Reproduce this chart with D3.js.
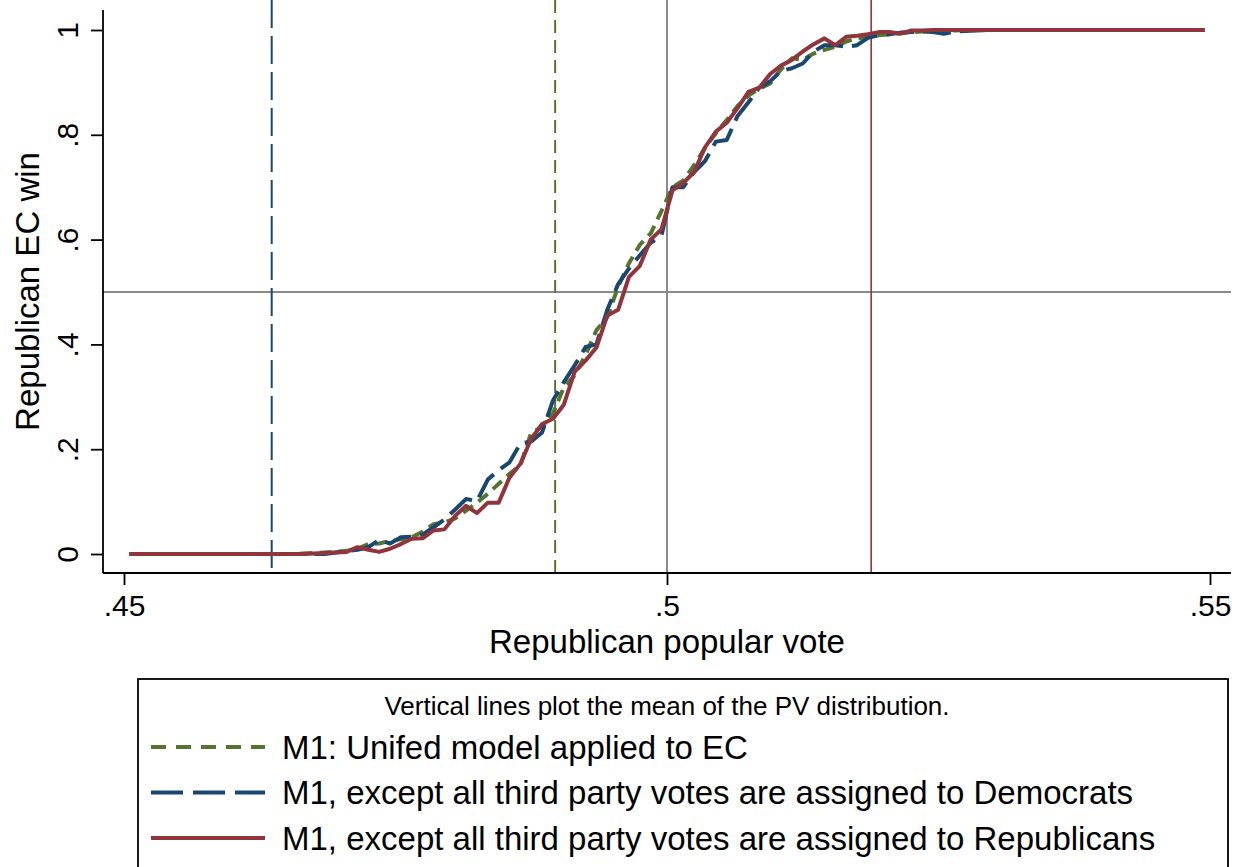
<!DOCTYPE html>
<html>
<head>
<meta charset="utf-8">
<script src="https://cdn.jsdelivr.net/npm/d3@7"></script>
<style>
  html, body { margin: 0; padding: 0; background: #fff; }
  svg { display: block; font-family: "Liberation Sans", Arial, Helvetica, sans-serif; }
</style>
</head>
<body>
<svg id="chart" width="1242" height="867"></svg>
<script>
// Bin midpoints of the Republican popular vote share
const pvBins = [
  0.4505,0.4515,0.4525,0.4535,0.4545,0.4555,0.4565,0.4575,0.4585,0.4595,
  0.4605,0.4615,0.4625,0.4635,0.4645,0.4655,0.4665,0.4675,0.4685,0.4695,
  0.4705,0.4715,0.4725,0.4735,0.4745,0.4755,0.4765,0.4775,0.4785,0.4795,
  0.4805,0.4815,0.4825,0.4835,0.4845,0.4855,0.4865,0.4875,0.4885,0.4895,
  0.4905,0.4915,0.4925,0.4935,0.4945,0.4955,0.4965,0.4975,0.4985,0.4995,
  0.5005,0.5015,0.5025,0.5035,0.5045,0.5055,0.5065,0.5075,0.5085,0.5095,
  0.5105,0.5115,0.5125,0.5135,0.5145,0.5155,0.5165,0.5175,0.5185,0.5195,
  0.5205,0.5215,0.5225,0.5235,0.5245,0.5255,0.5265,0.5275,0.5285,0.5295,
  0.5305,0.5315,0.5325,0.5335,0.5345,0.5355,0.5365,0.5375,0.5385,0.5395,
  0.5405,0.5415,0.5425,0.5435,0.5445,0.5455,0.5465,0.5475,0.5485,0.5495
];

// Share of simulations with a Republican Electoral College win, per bin
const winUnified = [
  0,0,0,0,0,0,0,0,0,0,
  0,0,0,0,0,0,0.001,0.002,0.003,0.004,
  0.006,0.010,0.019,0.020,0.025,0.028,0.032,0.043,0.057,0.060,
  0.068,0.083,0.098,0.115,0.134,0.153,0.169,0.232,0.242,0.268,
  0.318,0.341,0.380,0.427,0.452,0.510,0.555,0.590,0.612,0.655,
  0.700,0.713,0.742,0.775,0.803,0.828,0.855,0.875,0.888,0.898,
  0.925,0.946,0.943,0.955,0.962,0.968,0.978,0.984,0.987,0.990,
  0.992,0.994,0.996,0.997,0.998,0.998,0.999,1,1,1,
  1,1,1,1,1,1,1,1,1,1,
  1,1,1,1,1,1,1,1,1,1
];
const winThirdToDem = [
  0,0,0,0,0,0,0,0,0,0,
  0,0,0,0,0,0,0,0,0,0.003,
  0.006,0.008,0.013,0.027,0.020,0.032,0.033,0.037,0.051,0.066,
  0.085,0.105,0.101,0.142,0.160,0.175,0.211,0.215,0.232,0.293,
  0.328,0.360,0.395,0.400,0.466,0.515,0.545,0.570,0.594,0.608,
  0.700,0.700,0.729,0.750,0.787,0.790,0.836,0.862,0.890,0.902,
  0.922,0.927,0.936,0.959,0.971,0.971,0.968,0.971,0.985,0.990,
  0.992,0.995,0.996,0.997,0.996,0.993,0.997,0.998,0.999,1,
  1,1,1,1,1,1,1,1,1,1,
  1,1,1,1,1,1,1,1,1,1
];
const winThirdToRep = [
  0,0,0,0,0,0,0,0,0,0,
  0,0,0,0,0,0,0,0.001,0.002,0.003,
  0.004,0.013,0.008,0.004,0.010,0.019,0.029,0.030,0.045,0.047,
  0.073,0.092,0.078,0.098,0.098,0.146,0.172,0.220,0.248,0.258,
  0.285,0.348,0.369,0.394,0.455,0.466,0.529,0.550,0.600,0.620,
  0.694,0.708,0.729,0.776,0.806,0.823,0.851,0.882,0.890,0.916,
  0.932,0.943,0.959,0.973,0.984,0.971,0.987,0.989,0.992,0.996,
  0.996,0.993,0.999,0.999,1,1,1,1,1,1,
  1,1,1,1,1,1,1,1,1,1,
  1,1,1,1,1,1,1,1,1,1
];

// Mean of each popular-vote distribution
const pvMeans = [0.4636, 0.4897, 0.5188];

const xTicks = [0.45, 0.5, 0.55];
const yTicks = [0, 0.2, 0.4, 0.6, 0.8, 1];

const seriesNames = [
  "M1: Unifed model applied to EC",
  "M1, except all third party votes are assigned to Democrats",
  "M1, except all third party votes are assigned to Republicans"
];
const noteText = "Vertical lines plot the mean of the PV distribution.";
const xTitle = "Republican popular vote";
const yTitle = "Republican EC win";

const colors = { green: "#55752f", navy: "#1a476f", maroon: "#90353b", grid: "#8a8a8a" };

const svg = d3.select("#chart");
svg.append("rect").attr("width", 1242).attr("height", 867).attr("fill", "#fff");

const x = d3.scaleLinear().domain([0.45, 0.55]).range([124, 1210]);
const y = d3.scaleLinear().domain([0, 1]).range([554, 30]);

const plotLeft = 103, plotRight = 1231, plotBottom = 573, plotTop = 10;

const fmt = d => (d === 0 || d === 1) ? String(d) : String(d).replace(/^0\./, ".");

// Reference lines: 0.5 thresholds and distribution means
svg.append("line")
  .attr("x1", plotLeft).attr("x2", plotRight)
  .attr("y1", y(0.5)).attr("y2", y(0.5))
  .attr("stroke", colors.grid).attr("stroke-width", 2);
svg.append("line")
  .attr("x1", x(0.5)).attr("x2", x(0.5))
  .attr("y1", 0).attr("y2", plotBottom)
  .attr("stroke", colors.grid).attr("stroke-width", 2);

const meanStyles = [
  { color: colors.navy, dash: "28,8", width: 2 },
  { color: colors.green, dash: "13,7", width: 2 },
  { color: colors.maroon, dash: null, width: 1.6 }
];
pvMeans.forEach((m, i) => {
  svg.append("line")
    .attr("x1", x(m)).attr("x2", x(m))
    .attr("y1", 0).attr("y2", plotBottom)
    .attr("stroke", meanStyles[i].color)
    .attr("stroke-width", meanStyles[i].width)
    .attr("stroke-dasharray", meanStyles[i].dash);
});

// Curves
const seriesData = [
  { values: winUnified, color: colors.green, dash: "12,7" },
  { values: winThirdToDem, color: colors.navy, dash: "28,9" },
  { values: winThirdToRep, color: colors.maroon, dash: null }
];
const line = d3.line().x(d => x(d[0])).y(d => y(d[1]));
seriesData.forEach(s => {
  svg.append("path")
    .datum(pvBins.map((p, i) => [p, s.values[i]]))
    .attr("d", line)
    .attr("fill", "none")
    .attr("stroke", s.color)
    .attr("stroke-width", 4)
    .attr("stroke-linejoin", "round")
    .attr("stroke-dasharray", s.dash);
});

// Axes
const xAxis = svg.append("g")
  .attr("transform", `translate(0,${plotBottom})`)
  .call(d3.axisBottom(x).tickValues(xTicks).tickFormat(fmt).tickSize(12).tickPadding(10));
xAxis.select(".domain").attr("d", `M${plotLeft},0H${plotRight}`).attr("stroke", "#000").attr("stroke-width", 1.8);
xAxis.selectAll(".tick line").attr("stroke", "#000").attr("stroke-width", 1.8);
xAxis.selectAll(".tick text").attr("font-size", 30).attr("fill", "#000").attr("font-family", "Liberation Sans, Arial, sans-serif");

const yAxis = svg.append("g")
  .attr("transform", `translate(${plotLeft},0)`)
  .call(d3.axisLeft(y).tickValues(yTicks).tickFormat(fmt).tickSize(12).tickPadding(0));
yAxis.select(".domain").attr("d", `M0,${plotTop}V${plotBottom}`).attr("stroke", "#000").attr("stroke-width", 1.8);
yAxis.selectAll(".tick line").attr("stroke", "#000").attr("stroke-width", 1.8);
yAxis.selectAll(".tick text")
  .attr("font-size", 30).attr("fill", "#000").attr("font-family", "Liberation Sans, Arial, sans-serif")
  .attr("x", null).attr("dy", null)
  .attr("text-anchor", "middle")
  .attr("transform", "translate(-25,0) rotate(-90)");

// Axis titles
svg.append("text")
  .attr("x", x(0.5)).attr("y", 653)
  .attr("text-anchor", "middle").attr("font-size", 33)
  .text(xTitle);
svg.append("text")
  .attr("transform", `translate(39,${(plotTop + plotBottom) / 2}) rotate(-90)`)
  .attr("text-anchor", "middle").attr("font-size", 33)
  .text(yTitle);

// Legend
const lg = svg.append("g");
lg.append("rect")
  .attr("x", 138).attr("y", 679).attr("width", 1090).attr("height", 220)
  .attr("fill", "#fff").attr("stroke", "#000").attr("stroke-width", 1.8);
lg.append("text")
  .attr("x", 667).attr("y", 715)
  .attr("text-anchor", "middle").attr("font-size", 26)
  .text(noteText);
seriesData.forEach((s, i) => {
  const cy = 747 + i * 45.5;
  lg.append("line")
    .attr("x1", 151).attr("x2", 265).attr("y1", cy).attr("y2", cy)
    .attr("stroke", s.color).attr("stroke-width", 4)
    .attr("stroke-dasharray", i === 0 ? "15,10" : (i === 1 ? "32,10" : null));
  lg.append("text")
    .attr("x", 282).attr("y", cy + 11.5)
    .attr("font-size", 33)
    .text(seriesNames[i]);
});
</script>
</body>
</html>
